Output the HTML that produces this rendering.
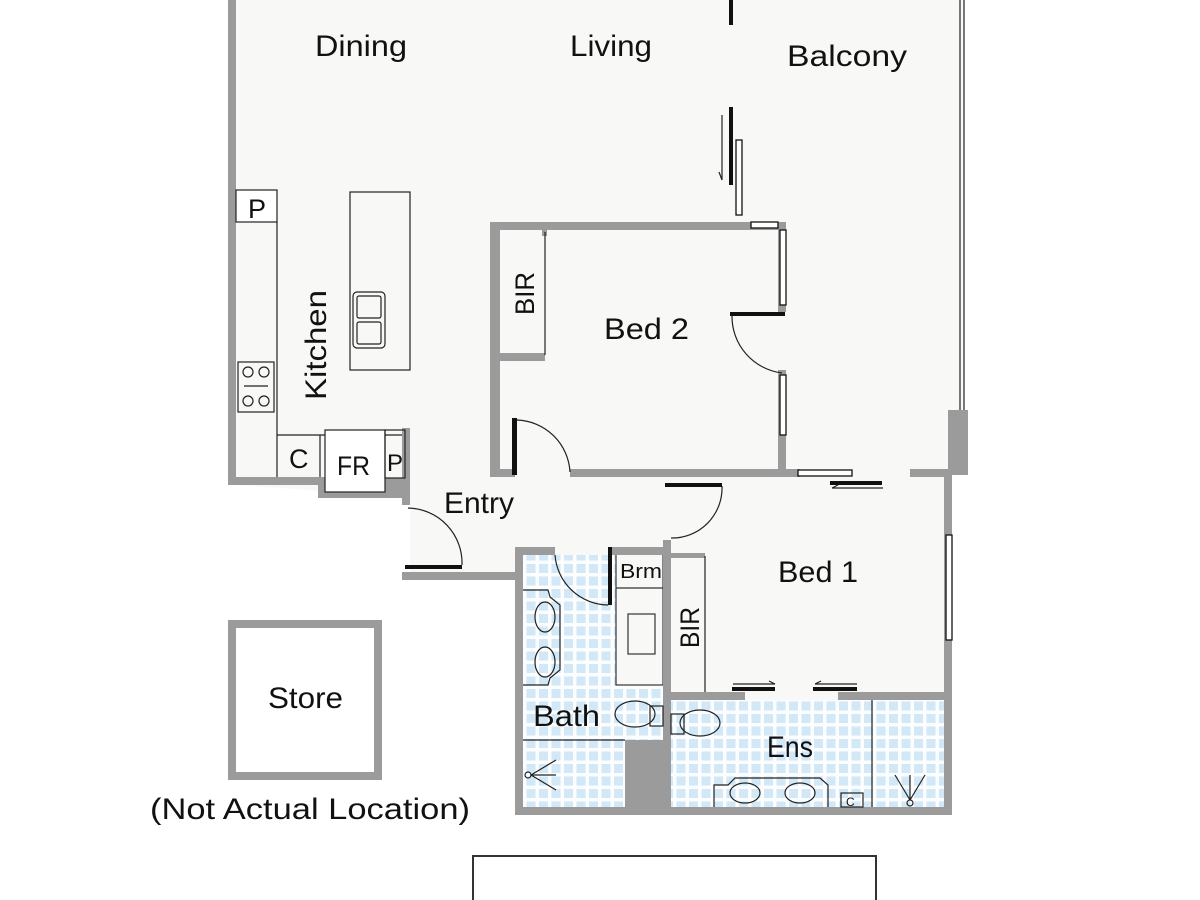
<!DOCTYPE html>
<html><head><meta charset="utf-8"><style>
html,body{margin:0;padding:0;background:#fff;}
svg{display:block;}
text{font-family:"Liberation Sans","DejaVu Sans",sans-serif;fill:#111;}
</style></head><body>
<svg width="1200" height="900" viewBox="0 0 1200 900" xmlns="http://www.w3.org/2000/svg">
<defs>
<pattern id="tile" width="12.5" height="12.5" patternUnits="userSpaceOnUse">
<rect width="12.5" height="12.5" fill="#fbfdff"/>
<rect x="1.5" y="1.5" width="9" height="9" fill="#d2e8f6"/>
</pattern>
</defs>
<rect width="1200" height="900" fill="#fff"/>
<polygon points="236,0 964,0 964,475 948,475 948,807 523,807 523,572 410,572 410,497 236,485" fill="#f8f8f7"/>
<rect x="523" y="555" width="140" height="252" fill="url(#tile)"/>
<rect x="671" y="700" width="273" height="107" fill="url(#tile)"/>
<rect x="616" y="553" width="47" height="132" fill="#f8f8f7" stroke="#333" stroke-width="1.2"/>
<line x1="616" y1="588" x2="663" y2="588" stroke="#333" stroke-width="1.2"/>
<rect x="628" y="614" width="27" height="40" fill="none" stroke="#333" stroke-width="1.2"/>

<g fill="#9b9b9b">
<rect x="228" y="0" width="8" height="485"/>
<rect x="228" y="477" width="97" height="8"/>
<rect x="318" y="490" width="92" height="8"/>
<rect x="318" y="477" width="7" height="20"/>
<rect x="385" y="478" width="25" height="20"/>
<rect x="402" y="428" width="8" height="70"/>
<rect x="402" y="497" width="8" height="8"/>
<rect x="402" y="572" width="121" height="8"/>
<rect x="490" y="222" width="10" height="255"/>
<rect x="490" y="222" width="296" height="8"/>
<rect x="778" y="222" width="8" height="90"/>
<rect x="778" y="370" width="8" height="107"/>
<rect x="500" y="353" width="45" height="8"/>
<rect x="542" y="228" width="5" height="8"/>
<rect x="490" y="469" width="25" height="8"/>
<rect x="570" y="469" width="230" height="8"/>
<rect x="910" y="469" width="40" height="8"/>
<rect x="948" y="410" width="20" height="65"/>
<rect x="944" y="475" width="8" height="340"/>
<rect x="515" y="547" width="8" height="268"/>
<rect x="515" y="547" width="40" height="8"/>
<rect x="610" y="547" width="61" height="8"/>
<rect x="663" y="540" width="8" height="275"/>
<rect x="671" y="553" width="34" height="5"/>
<rect x="671" y="692" width="74" height="8"/>
<rect x="838" y="692" width="114" height="8"/>
<rect x="515" y="807" width="437" height="8"/>
<rect x="625" y="740" width="46" height="70"/>
<rect x="228" y="620" width="154" height="8"/>
<rect x="228" y="772" width="154" height="8"/>
<rect x="228" y="620" width="8" height="160"/>
<rect x="374" y="620" width="8" height="160"/>
</g>

<g fill="none" stroke="#222" stroke-width="1.2">
<line x1="960" y1="0" x2="960" y2="410"/><line x1="964" y1="0" x2="964" y2="410"/>
<rect x="236" y="190" width="41" height="32" fill="#fff"/>
<line x1="277" y1="222" x2="277" y2="477"/>
<line x1="277" y1="435" x2="402" y2="435"/>
<line x1="320" y1="435" x2="320" y2="477"/>
<rect x="325" y="430" width="60" height="62" fill="#fff"/>
<rect x="385" y="430" width="20" height="48"/>
<rect x="238" y="362" width="36" height="50"/>
<circle cx="248" cy="372" r="5"/><circle cx="264" cy="372" r="5"/>
<circle cx="248" cy="401" r="5"/><circle cx="264" cy="401" r="5"/>
<line x1="244" y1="386" x2="268" y2="386"/>
<rect x="350" y="192" width="60" height="178"/>
<rect x="353" y="292" width="32" height="56" rx="4"/>
<rect x="357" y="296" width="24" height="22" rx="2"/><rect x="357" y="322" width="24" height="22" rx="2"/>
<line x1="545" y1="232" x2="545" y2="355"/>
<line x1="705" y1="556" x2="705" y2="692"/>
<path d="M517,420 A55,55 0 0 1 570,472"/>
<path d="M732,316 A57,57 0 0 0 782,373"/>
<path d="M722,486 A50,50 0 0 1 671,538"/>
<path d="M408,508 A55,55 0 0 1 462,565"/>
<path d="M555,555 A54,54 0 0 0 608,605"/>
<line x1="523" y1="740" x2="625" y2="740"/>
<line x1="872" y1="700" x2="872" y2="807"/>
<circle cx="528" cy="775" r="3"/><path d="M531,775 L556,760 M531,775 L556,775 M531,775 L556,790"/>
<circle cx="910" cy="803" r="3"/><path d="M910,800 L895,775 M910,800 L910,775 M910,800 L925,775"/>
<path d="M523,590 L548,590 L550,597 L560,605 L560,670 L550,678 L548,685 L523,685"/>
<ellipse cx="545" cy="617" rx="10" ry="15"/><ellipse cx="545" cy="662" rx="10" ry="15"/>
<ellipse cx="635" cy="714" rx="20" ry="13"/><rect x="650" y="706" width="13" height="20"/>
<ellipse cx="700" cy="723" rx="20" ry="13"/><rect x="671" y="714" width="13" height="20"/>
<path d="M714,807 L714,785 L728,785 L735,778 L820,778 L828,785 L828,807"/>
<ellipse cx="745" cy="793" rx="15" ry="10"/><ellipse cx="800" cy="793" rx="15" ry="10"/>
<rect x="841" y="793" width="22" height="14"/>
<rect x="473" y="856" width="403" height="50" stroke="#333" stroke-width="2"/>
<path d="M722,115 L722,180 M719,172 L722,180"/>
<path d="M883,488 L832,488 M838,485 L832,488"/>
<path d="M733,684 L775,684 M769,681 L775,684"/>
<path d="M857,684 L815,684 M821,681 L815,684"/>
</g>

<g fill="#fff" stroke="#111" stroke-width="1.3">
<rect x="736" y="140" width="6" height="75"/>
<rect x="751" y="222" width="27" height="6"/>
<rect x="780" y="230" width="6" height="75"/>
<rect x="780" y="375" width="6" height="60"/>
<rect x="798" y="470" width="54" height="6"/>
<rect x="946" y="535" width="6" height="105"/>
</g>
<g fill="#111">
<rect x="729" y="0" width="4" height="25"/>
<rect x="729" y="107" width="4" height="78"/>
<rect x="512" y="418" width="5" height="57"/>
<rect x="730" y="312" width="55" height="4"/>
<rect x="665" y="483" width="57" height="4"/>
<rect x="830" y="481" width="52" height="4"/>
<rect x="405" y="565" width="57" height="4"/>
<rect x="608" y="547" width="4" height="58"/>
<rect x="732" y="687" width="43" height="4"/>
<rect x="813" y="687" width="44" height="4"/>
</g>

<g font-size="30">
<text x="315" y="56" textLength="92" lengthAdjust="spacingAndGlyphs">Dining</text>
<text x="570" y="56" textLength="82" lengthAdjust="spacingAndGlyphs">Living</text>
<text x="787" y="66" textLength="120" lengthAdjust="spacingAndGlyphs">Balcony</text>
<text x="604" y="339" textLength="85" lengthAdjust="spacingAndGlyphs">Bed 2</text>
<text x="444" y="513" textLength="70" lengthAdjust="spacingAndGlyphs">Entry</text>
<text x="778" y="582" textLength="80" lengthAdjust="spacingAndGlyphs">Bed 1</text>
<text x="533" y="726" textLength="67" lengthAdjust="spacingAndGlyphs">Bath</text>
<text x="767" y="757" textLength="46" lengthAdjust="spacingAndGlyphs">Ens</text>
<text x="268" y="708" textLength="75" lengthAdjust="spacingAndGlyphs">Store</text>
<text x="150" y="819" textLength="320" lengthAdjust="spacingAndGlyphs">(Not Actual Location)</text>
<text x="248" y="218" font-size="27">P</text>
<text x="289" y="468" font-size="27">C</text>
<text x="337" y="475" font-size="27" textLength="33" lengthAdjust="spacingAndGlyphs">FR</text>
<text x="387" y="471" font-size="24">P</text>
<text x="620" y="578" font-size="20" textLength="42" lengthAdjust="spacingAndGlyphs">Brm</text>
<text transform="translate(326,400) rotate(-90)" textLength="110" lengthAdjust="spacingAndGlyphs">Kitchen</text>
<text transform="translate(534,315) rotate(-90)" font-size="27" textLength="43" lengthAdjust="spacingAndGlyphs">BIR</text>
<text transform="translate(699,648) rotate(-90)" font-size="27" textLength="41" lengthAdjust="spacingAndGlyphs">BIR</text>
<text x="846" y="806" font-size="12">C</text>
</g>
</svg>
</body></html>
